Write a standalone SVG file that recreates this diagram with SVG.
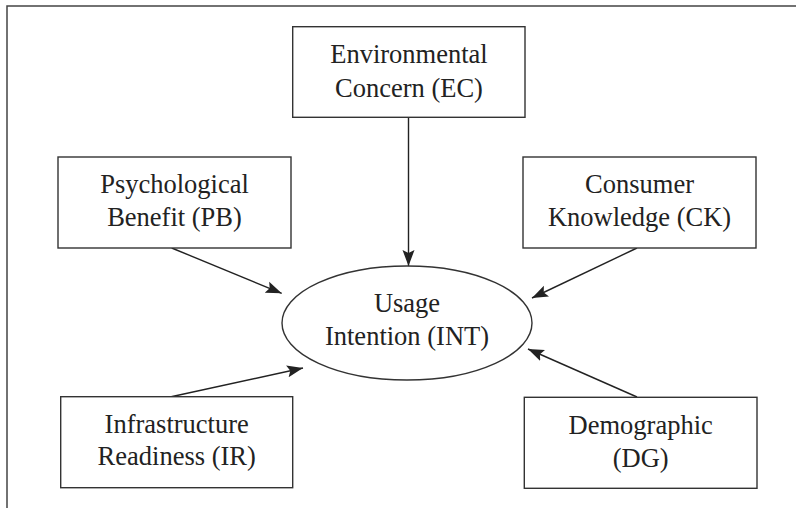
<svg xmlns="http://www.w3.org/2000/svg" width="796" height="508" viewBox="0 0 796 508">
<style>
.box{fill:#fff;stroke:#333;stroke-width:1.4}
.frame{fill:none;stroke:#444;stroke-width:1.5}
.t{font-family:"Liberation Serif","Times New Roman",serif;font-size:26.5px;fill:#222;text-anchor:middle}
.c{stroke:#222;stroke-width:1.4;fill:none;marker-end:url(#ah)}
</style>
<defs>
<marker id="ah" markerUnits="userSpaceOnUse" markerWidth="17" markerHeight="13" refX="16" refY="6" orient="auto" viewBox="0 0 17 12">
<path d="M0,0 L16,6 L0,12 L3,6 Z" fill="#222"/>
</marker>
</defs>
<rect class="frame" x="7" y="6" width="800" height="520"/>
<g id="connectors">
<line class="c" x1="408.5" y1="117.3" x2="408.5" y2="266"/>
<line class="c" x1="171.7" y1="248" x2="281.7" y2="293.3"/>
<line class="c" x1="637" y1="248" x2="532" y2="298"/>
<line class="c" x1="170" y1="397" x2="303" y2="368"/>
<line class="c" x1="637" y1="397" x2="528" y2="349"/>
</g>
<g id="EC">
<rect class="box" x="292.7" y="26.7" width="232.3" height="90.6"/>
<text class="t" x="409" y="63.3">Environmental</text>
<text class="t" x="409" y="96.7">Concern (EC)</text>
</g>
<g id="PB">
<rect class="box" x="58" y="157" width="233" height="91"/>
<text class="t" x="174.5" y="193.3">Psychological</text>
<text class="t" x="174.5" y="225.7">Benefit (PB)</text>
</g>
<g id="CK">
<rect class="box" x="523" y="157" width="233" height="91"/>
<text class="t" x="639.5" y="193.3">Consumer</text>
<text class="t" x="639.5" y="225.7">Knowledge (CK)</text>
</g>
<g id="INT">
<ellipse class="box" cx="407" cy="323" rx="125" ry="57"/>
<text class="t" x="407" y="311.7">Usage</text>
<text class="t" x="407" y="345">Intention (INT)</text>
</g>
<g id="IR">
<rect class="box" x="60.7" y="396.7" width="232" height="91"/>
<text class="t" x="176.7" y="432.7">Infrastructure</text>
<text class="t" x="176.7" y="465">Readiness (IR)</text>
</g>
<g id="DG">
<rect class="box" x="524.3" y="397.3" width="232.7" height="91"/>
<text class="t" x="640.7" y="434.3">Demographic</text>
<text class="t" x="640.7" y="466.7">(DG)</text>
</g>
</svg>
